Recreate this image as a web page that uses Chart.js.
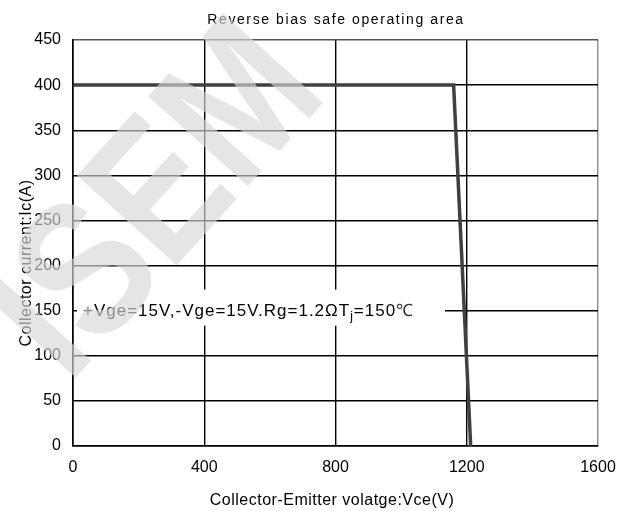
<!DOCTYPE html>
<html>
<head>
<meta charset="utf-8">
<script src="https://cdn.jsdelivr.net/npm/chart.js@4"></script>
<style>
  html, body { margin: 0; padding: 0; background: #fff; }
  #wrap { width: 630px; height: 511px; }
</style>
</head>
<body>
<div id="wrap"><canvas id="rbsoaChart" width="630" height="511"></canvas></div>
<script>
// Datos
var vce = [0, 1160, 1212];
var ic = [400, 400, 0];
var xTicks = [0, 400, 800, 1200, 1600];
var yTicks = [0, 50, 100, 150, 200, 250, 300, 350, 400, 450];

var titulo = 'Reverse bias safe operating area';
var tituloX = 'Collector-Emitter volatge:Vce(V)';
var tituloY = 'Collector current:Ic(A)';
var fuente = '"Liberation Sans", Arial, sans-serif';

// Textos, caja blanca de la anotacion y marca de agua
var textos = {
    id: 'textos',
    beforeDatasetsDraw: function(chart) {
        var c = chart.ctx;
        var yp = chart.scales.y.getPixelForValue(150);
        c.save();
        c.fillStyle = '#fff';
        c.fillRect(77, yp - 21, 368, 36);
        c.restore();
    },
    afterDraw: function(chart) {
        var c = chart.ctx;
        var yp = chart.scales.y.getPixelForValue(150);
        c.save();
        c.fillStyle = '#000';
        c.textBaseline = 'alphabetic';

        // titulo
        c.textAlign = 'center';
        c.font = '14px ' + fuente;
        c.letterSpacing = '1.6px';
        c.fillText(titulo, 336, 24);

        // eje x
        c.font = '16px ' + fuente;
        c.letterSpacing = '0.5px';
        c.fillText(tituloX, 332, 505);

        // eje y
        c.save();
        c.translate(31, 263);
        c.rotate(-Math.PI / 2);
        c.fillText(tituloY, 0, 0);
        c.restore();

        // anotacion con subindice
        c.textAlign = 'left';
        c.font = '17px ' + fuente;
        c.letterSpacing = '1px';
        var x = 83, base = yp + 5;
        var p1 = '+Vge=15V,-Vge=15V.Rg=1.2\u03A9T';
        c.fillText(p1, x, base);
        x += c.measureText(p1).width;
        c.font = '12px ' + fuente;
        c.fillText('j', x, base + 4);
        x += c.measureText('j').width;
        c.font = '17px ' + fuente;
        c.fillText('=150', x, base);
        x += c.measureText('=150').width;
        c.fillStyle = '#333';
        c.fillText('\u2103', x, base);
        c.restore();

        // marca de agua
        c.save();
        c.translate(330, 95);
        c.rotate(-48 * Math.PI / 180);
        c.scale(0.82, 1);
        c.font = 'bold 195px ' + fuente;
        c.fillStyle = 'rgba(215,215,215,0.65)';
        c.textAlign = 'right';
        c.fillText('ISEM', 0, 0);
        c.restore();
    }
};

var ctx = document.getElementById('rbsoaChart').getContext('2d');

var data = {
    datasets: [{
        data: vce.map(function(v, i) { return { x: v, y: ic[i] }; }),
        showLine: true,
        borderColor: '#404040',
        borderWidth: 3.5,
        pointRadius: 0,
        tension: 0,
        fill: false
    }]
};

var options = {
    responsive: false,
    animation: false,
    layout: { padding: { top: 40, right: 32, left: 0, bottom: 0 } },
    plugins: {
        legend: { display: false },
        title: { display: false },
        tooltip: { enabled: false }
    },
    scales: {
        x: {
            type: 'linear',
            min: 0,
            max: 1600,
            afterBuildTicks: function(s) { s.ticks = xTicks.map(function(v) { return { value: v }; }); },
            afterFit: function(s) { s.height = 65; },
            ticks: {
                padding: 12,
                color: '#000',
                font: { family: fuente, size: 16 },
                maxRotation: 0,
                callback: function(v) { return String(v); }
            },
            grid: {
                drawTicks: false,
                lineWidth: 1.4,
                color: function(c) { return c.tick && c.tick.value === 1600 ? '#8c8c8c' : '#000'; }
            },
            border: { color: '#000', width: 1.6 }
        },
        y: {
            type: 'linear',
            min: 0,
            max: 450,
            afterBuildTicks: function(s) { s.ticks = yTicks.map(function(v) { return { value: v }; }); },
            afterFit: function(s) { s.width = 73; },
            ticks: {
                padding: 12,
                color: '#000',
                font: { family: fuente, size: 16 },
                callback: function(v) { return String(v); }
            },
            grid: {
                drawTicks: false,
                lineWidth: 1.4,
                color: function(c) { return c.tick && c.tick.value === 450 ? '#555' : '#000'; }
            },
            border: { color: '#000', width: 1.6 }
        }
    }
};

var rbsoaChart = new Chart(ctx, {
    type: 'scatter',
    data: data,
    options: options,
    plugins: [textos]
});
</script>
</body>
</html>
